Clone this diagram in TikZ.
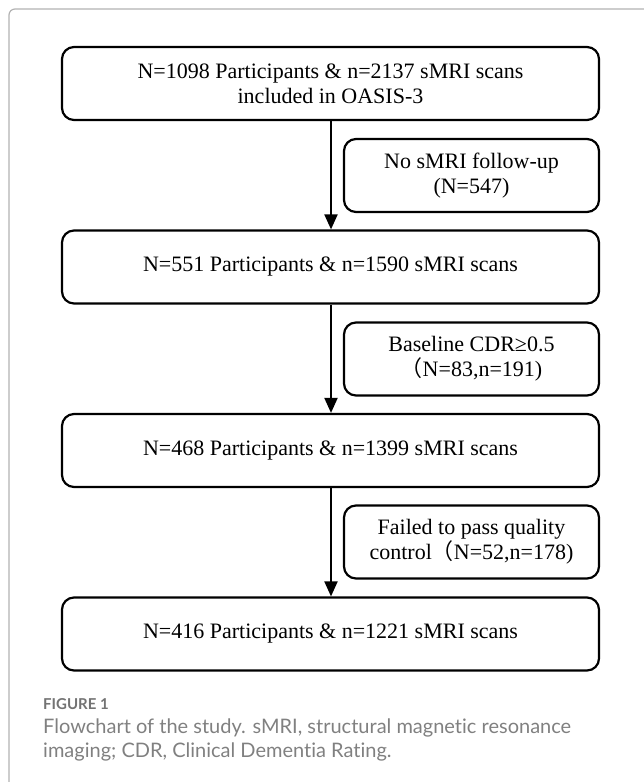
\documentclass[tikz,border=0pt]{standalone}
\usepackage{fontspec}
\setmainfont{Liberation Serif}
\newfontfamily\capfont[Ligatures=NoCommon]{Lato}
\newfontfamily\cjk{Noto Sans CJK SC}
\usetikzlibrary{arrows.meta}
\begin{document}
\begin{tikzpicture}[x=1pt,y=-1pt,
  mainbox/.style={draw=black,line width=2.2pt,rounded corners=12pt,minimum width=537pt,minimum height=73pt,align=center,inner sep=0pt,font=\fontsize{22}{25}\selectfont},
  sidebox/.style={draw=black,line width=2.2pt,rounded corners=12pt,minimum width=255pt,minimum height=73pt,align=center,inner sep=0pt,font=\fontsize{22}{25}\selectfont},
  flowarrow/.style={line width=2pt,-{Triangle[width=13pt,length=15pt]}},
  captext/.style={anchor=base west,inner sep=0pt,text=black!50,font=\capfont\fontsize{20}{23}\selectfont}]
\useasboundingbox (0,0) rectangle (644,782);
\draw[black!30,line width=1.2pt,rounded corners=6pt] (9,900) -- (9,9) -- (760,9);
\node[mainbox] (b1) at (330.5,83.5) {N=1098 Participants \& n=2137 sMRI scans\\included in OASIS-3};
\node[sidebox] (s1) at (471.5,175.5) {No sMRI follow-up\\(N=547)};
\node[mainbox] (b2) at (330.5,267) {N=551 Participants \& n=1590 sMRI scans};
\node[sidebox] (s2) at (471.5,359) {Baseline CDR≥0.5\\{\cjk （}N=83,n=191)};
\node[mainbox] (b3) at (330.5,450.5) {N=468 Participants \& n=1399 sMRI scans};
\node[sidebox] (s3) at (471.5,542) {Failed to pass quality\\control{\cjk （}N=52,n=178)};
\node[mainbox] (b4) at (330.5,634) {N=416 Participants \& n=1221 sMRI scans};
\coordinate (a1) at (331,0);
\draw[flowarrow] (b1.south -| a1) -- (b2.north -| a1);
\draw[flowarrow] (b2.south -| a1) -- (b3.north -| a1);
\draw[flowarrow] (b3.south -| a1) -- (b4.north -| a1);
\node[anchor=base west,inner sep=0pt,text=black!55,font=\capfont\bfseries\fontsize{15}{17}\selectfont] (fig) at (43,709) {FIGURE 1};
\node[captext] (c1) at (43,733) {Flowchart of the study. sMRI, structural magnetic resonance};
\node[captext] (c2) at (43,757) {imaging; CDR, Clinical Dementia Rating.};
\end{tikzpicture}
\end{document}
